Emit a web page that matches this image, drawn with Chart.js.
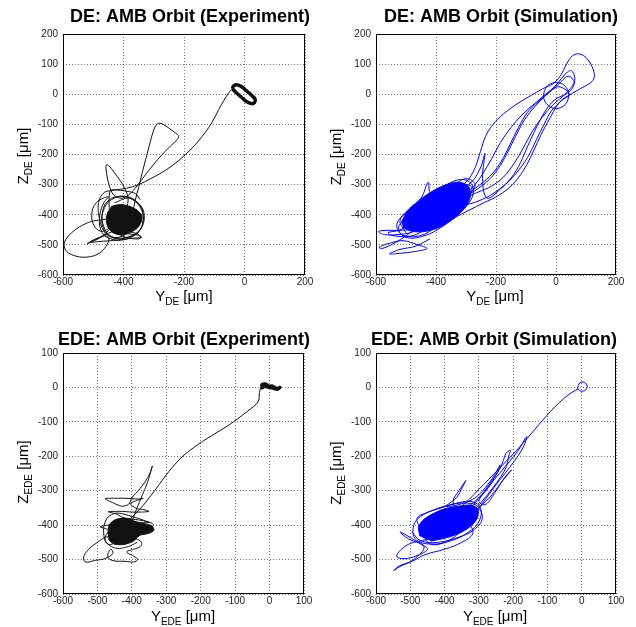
<!DOCTYPE html>
<html>
<head>
<meta charset="utf-8">
<script src="https://cdn.jsdelivr.net/npm/chart.js@4.4.1/dist/chart.umd.min.js"></script>
<style>
  body { margin: 0; background: #fff; }
  #wrap { position: relative; width: 636px; height: 627px; }
  #wrap canvas { position: absolute; left: 0; top: 0; }
</style>
</head>
<body>
<div id="wrap">
  <canvas id="deExp" width="636" height="627"></canvas>
  <canvas id="deSim" width="636" height="627"></canvas>
  <canvas id="edeExp" width="636" height="627"></canvas>
  <canvas id="edeSim" width="636" height="627"></canvas>
</div>
<script>
// orbit traces, [Y, Z] in µm

// DE experiment
const deExpOrbit = [[-40,18],[-36,28],[-22,31],[-8,24],[8,10],[24,-4],[35,-16],[33,-28],[22,-31],[6,-24],[-10,-10],[-26,4],[-40,18]];
const deExpPath = [[-40,18],[-52,5],[-68,-20],[-85,-50],[-100,-80],[-118,-110],[-140,-140],[-165,-170],[-195,-200],[-230,-230],[-270,-258],[-310,-280],[-350,-300],[-390,-312],[-430,-318],[-462,-325],[-478,-345],[-484,-375],[-480,-410],[-470,-445],[-452,-468],[-425,-476],[-398,-468],[-380,-448],[-372,-420],[-368,-390],[-362,-355],[-350,-310],[-338,-260],[-325,-210],[-312,-160],[-300,-118],[-290,-100],[-280,-96],[-262,-104],[-240,-120],[-218,-138],[-222,-150],[-245,-172],[-272,-200],[-300,-232],[-328,-268],[-352,-300],[-378,-330],[-405,-345],[-432,-335],[-448,-300],[-456,-262],[-457,-235],[-448,-238],[-432,-258],[-412,-285],[-396,-312],[-385,-345],[-392,-380],[-420,-405],[-460,-415],[-505,-422],[-545,-440],[-580,-468],[-596,-496],[-588,-522],[-555,-538],[-515,-540],[-480,-528],[-458,-505],[-448,-478],[-462,-470],[-495,-482],[-520,-496],[-508,-492],[-480,-478],[-452,-462],[-430,-455],[-400,-452],[-372,-458],[-350,-466],[-345,-478],[-365,-480],[-395,-474],[-420,-460],[-440,-440],[-445,-322],[-420,-318],[-390,-322],[-360,-330],[-345,-350]];
const deExpCore = [[-440,-372],[-410,-366],[-380,-372],[-355,-385],[-340,-402],[-342,-425],[-355,-445],[-380,-460],[-405,-467],[-430,-462],[-450,-445],[-457,-415],[-452,-390]];
const deExpFringe = [[-430,-360],[-380,-345],[-345,-370],[-335,-410],[-348,-455],[-390,-475],[-440,-472],[-465,-440],[-470,-395],[-455,-358],[-420,-340],[-370,-350],[-338,-390],[-340,-440],[-370,-468],[-420,-480],[-458,-460],[-472,-420],[-462,-375],[-440,-350],[-400,-338],[-358,-355],[-332,-395],[-345,-450],[-395,-482],[-448,-478],[-475,-450],[-478,-400],[-465,-360],[-450,-340],[-490,-360],[-505,-400],[-495,-440],[-470,-455],[-440,-440],[-470,-470],[-510,-490],[-470,-488],[-420,-484],[-370,-478],[-340,-475],[-350,-468],[-400,-462]];

// DE simulation
const deSimCircle = [[0,40],[22,34],[38,16],[42,-6],[34,-30],[14,-45],[-10,-46],[-30,-34],[-41,-12],[-38,12],[-24,32],[0,40]];
const deSimPath = [[-400,-380],[-360,-340],[-320,-310],[-290,-280],[-268,-240],[-252,-190],[-235,-140],[-210,-100],[-175,-65],[-130,-32],[-85,-5],[-45,18],[-10,35],[15,62],[35,100],[55,128],[78,134],[102,120],[120,92],[128,62],[120,42],[98,28],[70,12],[42,-4],[20,-18],[2,-40],[-18,-75],[-40,-115],[-62,-160],[-85,-210],[-110,-255],[-145,-300],[-190,-335],[-240,-360],[-290,-385],[-340,-410],[-390,-430],[-440,-445],[-490,-450],[-530,-452],[-570,-452],[-592,-456],[-572,-466],[-530,-466],[-480,-458],[-430,-430],[-380,-395],[-335,-360],[-300,-330],[-270,-300],[-245,-265],[-215,-215],[-185,-160],[-150,-110],[-110,-65],[-70,-30],[-35,0],[-5,25],[18,52],[38,74],[52,78],[62,58],[60,32],[48,12],[28,-2],[0,-15],[-25,-40],[-50,-80],[-75,-130],[-100,-185],[-125,-240],[-160,-290],[-210,-330],[-260,-355],[-310,-370],[-360,-385],[-410,-410],[-460,-440],[-500,-470],[-540,-495],[-580,-512],[-590,-508],[-560,-496],[-510,-486],[-460,-500],[-430,-512],[-470,-522],[-520,-528],[-555,-530],[-520,-515],[-470,-505],[-420,-480]];
const deSimBand = [[-320,-350],[-270,-320],[-230,-290],[-195,-250],[-165,-200],[-135,-140],[-105,-85],[-70,-40],[-35,-5],[5,30],[40,60],[60,40],[30,0],[-10,-35],[-45,-75],[-80,-125],[-110,-180],[-140,-230],[-175,-275],[-215,-305],[-260,-325],[-300,-340],[-280,-320],[-240,-290],[-205,-255],[-175,-210],[-150,-160],[-125,-110],[-95,-60],[-60,-25],[-25,5],[10,25],[45,0],[20,-20],[-15,-55],[-40,-100],[-65,-150],[-95,-210],[-135,-265],[-180,-310],[-230,-345],[-245,-280],[-237,-196],[-250,-240],[-280,-290],[-330,-320]];
const deSimCore = [[-515,-425],[-500,-395],[-470,-365],[-440,-340],[-400,-315],[-360,-298],[-322,-292],[-292,-305],[-285,-335],[-300,-372],[-340,-412],[-390,-442],[-440,-456],[-480,-455],[-510,-442]];
const deSimFringe = [[-500,-460],[-520,-420],[-490,-380],[-450,-345],[-426,-292],[-418,-330],[-380,-310],[-330,-285],[-290,-290],[-275,-320],[-290,-360],[-330,-400],[-380,-440],[-440,-470],[-500,-475],[-525,-445],[-500,-410],[-455,-370],[-410,-335],[-360,-310],[-310,-300],[-280,-310],[-300,-350],[-345,-395],[-400,-440],[-455,-470],[-515,-465],[-530,-430],[-495,-390],[-440,-350],[-390,-325],[-345,-305],[-300,-280],[-270,-300],[-290,-335],[-320,-365],[-370,-405],[-430,-445],[-480,-470],[-540,-470],[-560,-460],[-520,-450],[-470,-420],[-420,-380],[-370,-345],[-320,-320]];

// EDE experiment
const edeExpOrbit = [[-25,2],[-20,9],[-13,10],[-6,6],[0,3],[6,4],[13,1],[20,-3],[27,-2],[30,0],[24,-5],[15,-4],[7,-1],[0,0],[-8,2],[-16,3],[-22,-1],[-25,2]];
const edeExpPath = [[-25,0],[-28,-8],[-30,-22],[-31,-36],[-38,-48],[-55,-62],[-78,-80],[-105,-100],[-135,-120],[-165,-138],[-195,-157],[-222,-176],[-248,-196],[-272,-220],[-293,-245],[-312,-270],[-330,-295],[-348,-318],[-365,-340],[-385,-362],[-405,-382],[-430,-400]];
const edeExpBranch = [[-400,-390],[-385,-350],[-372,-318],[-360,-290],[-350,-262],[-343,-235],[-340,-228],[-347,-248],[-362,-275],[-380,-298],[-398,-318],[-410,-340],[-430,-345],[-455,-335],[-478,-323],[-460,-322],[-420,-322],[-380,-324],[-367,-322],[-390,-330],[-405,-338],[-385,-352],[-365,-355],[-350,-360],[-372,-362],[-400,-362],[-430,-360],[-468,-361],[-445,-368],[-420,-380],[-380,-385],[-350,-392],[-420,-395],[-470,-400],[-492,-405],[-470,-412]];
const edeExpCore = [[-470,-425],[-465,-398],[-445,-383],[-415,-380],[-388,-390],[-362,-396],[-342,-402],[-336,-415],[-352,-424],[-378,-430],[-395,-446],[-422,-456],[-452,-455],[-468,-442]];
const edeExpLower = [[-440,-430],[-475,-435],[-500,-450],[-525,-470],[-540,-492],[-535,-507],[-505,-502],[-478,-497],[-455,-482],[-462,-470],[-470,-492],[-455,-503],[-420,-505],[-395,-507],[-383,-500],[-395,-490],[-415,-478],[-395,-470],[-375,-462],[-372,-450],[-390,-440],[-430,-445],[-470,-455],[-482,-420],[-475,-385],[-460,-370],[-440,-365],[-400,-375],[-360,-388],[-338,-398],[-350,-410],[-380,-405],[-420,-400],[-455,-410],[-478,-440],[-450,-466],[-410,-462],[-385,-450]];

// EDE simulation
const edeSimCircle = [[-10,5],[-6,13],[3,16],[12,12],[16,2],[12,-7],[3,-11],[-7,-9],[-12,-2],[-10,5]];
const edeSimPath = [[-10,-4],[-28,-14],[-52,-32],[-78,-56],[-102,-82],[-125,-108],[-148,-135],[-170,-160],[-193,-186],[-218,-212],[-245,-240],[-272,-268],[-300,-296],[-328,-325],[-358,-352],[-390,-375]];
const edeSimBand = [[-330,-385],[-300,-350],[-270,-310],[-240,-270],[-210,-232],[-185,-198],[-168,-168],[-160,-143],[-166,-150],[-178,-172],[-198,-200],[-225,-232],[-255,-268],[-285,-305],[-315,-340],[-345,-370],[-320,-360],[-290,-330],[-262,-295],[-235,-258],[-220,-230],[-213,-200],[-208,-183],[-220,-190],[-228,-210],[-240,-238],[-265,-275],[-295,-315],[-330,-345],[-360,-362],[-375,-330],[-358,-300],[-345,-280],[-338,-270],[-348,-290],[-365,-320],[-395,-345],[-350,-338],[-310,-320],[-280,-290],[-255,-255],[-238,-225],[-245,-245],[-268,-285],[-300,-330],[-280,-340],[-250,-300],[-225,-262],[-205,-240],[-230,-270],[-262,-312],[-300,-350]];
const edeSimCore = [[-472,-432],[-476,-405],[-460,-383],[-430,-365],[-398,-352],[-360,-345],[-322,-342],[-302,-355],[-306,-382],[-326,-405],[-360,-425],[-400,-438],[-440,-446]];
const edeSimFringe = [[-440,-440],[-490,-450],[-520,-465],[-540,-490],[-525,-497],[-490,-492],[-450,-470],[-470,-455],[-510,-430],[-530,-420],[-505,-440],[-460,-462],[-490,-500],[-530,-520],[-548,-532],[-535,-520],[-495,-505],[-455,-485],[-400,-470],[-350,-450],[-318,-425],[-330,-400],[-380,-440],[-440,-455],[-470,-410],[-480,-380],[-455,-365],[-410,-350],[-360,-335],[-320,-332],[-295,-350],[-300,-390],[-330,-420],[-380,-445],[-440,-455],[-485,-440],[-490,-400],[-470,-375],[-430,-355],[-380,-340],[-335,-336],[-305,-345],[-290,-380],[-310,-410],[-350,-432],[-420,-450],[-470,-445],[-495,-420]];

const topTicks = { min: -600, max: 200, step: 200, yStep: 100 };
const bottomTicks = { min: -600, max: 100, step: 100, yStep: 100 };

const BLACK = '#111';
const BLUE = '#0000ff';

const pts = arr => arr.map(p => ({ x: p[0], y: p[1] }));

function trace(arr, color, width, tension) {
  return { data: pts(arr), showLine: true, borderColor: color, borderWidth: width,
           pointRadius: 0, tension: tension === undefined ? 0.35 : tension, fill: false };
}
function blob(arr, color) {
  return { data: pts(arr), showLine: true, borderColor: color, borderWidth: 1,
           backgroundColor: color, pointRadius: 0, tension: 0.3, fill: 'shape' };
}

// title, axis labels with subscripts and the closed axes box
const decor = {
  id: 'decor',
  afterDraw(chart, args, o) {
    const ctx = chart.ctx;
    const a = chart.chartArea;
    ctx.save();
    ctx.strokeStyle = '#000';
    ctx.lineWidth = 1;
    ctx.strokeRect(Math.round(a.left) + 0.5, Math.round(a.top) + 0.5,
                   Math.round(a.right - a.left) - 1, Math.round(a.bottom - a.top) - 1);
    ctx.fillStyle = '#000';
    ctx.font = 'bold 18px Arial, "Liberation Sans"';
    ctx.textAlign = 'center';
    ctx.textBaseline = 'alphabetic';
    ctx.fillText(o.title, o.titleAt[0], o.titleAt[1]);
    ctx.restore();
    subLabel(ctx, o.xAt[0], o.xAt[1], 'Y', o.sub, ' [\u03bcm]', false);
    subLabel(ctx, o.yAt[0], o.yAt[1], 'Z', o.sub, ' [\u03bcm]', true);
  }
};

function subLabel(ctx, x, y, main, sub, tail, rotate) {
  const big = '15px Arial, "Liberation Sans"';
  const small = '10px Arial, "Liberation Sans"';
  ctx.save();
  ctx.translate(x, y);
  if (rotate) ctx.rotate(-Math.PI / 2);
  ctx.fillStyle = '#000';
  ctx.textAlign = 'left';
  ctx.textBaseline = 'alphabetic';
  ctx.font = big;
  const w1 = ctx.measureText(main).width;
  const w3 = ctx.measureText(tail).width;
  ctx.font = small;
  const w2 = ctx.measureText(sub).width;
  let cx = -(w1 + w2 + w3) / 2;
  ctx.font = big;
  ctx.fillText(main, cx, 0);
  cx += w1;
  ctx.font = small;
  ctx.fillText(sub, cx, 4);
  cx += w2;
  ctx.font = big;
  ctx.fillText(tail, cx, 0);
  ctx.restore();
}

const YW = 40, XH = 20;

function panel(id, box, range, datasets, deco) {
  const [L, T, R, B] = box;
  const tickFont = { family: '"Liberation Sans Narrow", Arial', size: 10 };
  const axis = (min, max, step, pad) => ({
    type: 'linear', min: min, max: max,
    border: { display: false, dash: [1, 2] },
    grid: { color: 'rgba(0,0,0,0.55)', drawTicks: false, lineWidth: 1 },
    ticks: { stepSize: step, color: '#222', font: tickFont, padding: pad,
             autoSkip: false, maxRotation: 0 }
  });
  const x = axis(range.min, range.max, range.step, 1);
  x.afterFit = s => { s.height = XH; };
  const y = axis(range.min, range.max, range.yStep, 5);
  y.afterFit = s => { s.width = YW; };
  new Chart(document.getElementById(id), {
    type: 'scatter',
    data: { datasets: datasets },
    options: {
      responsive: false,
      animation: false,
      events: [],
      layout: { padding: { left: L - YW, top: T, right: 636 - R, bottom: 627 - B - XH } },
      scales: { x: x, y: y },
      plugins: { legend: { display: false }, tooltip: { enabled: false }, decor: deco }
    },
    plugins: [decor]
  });
}

panel('deExp', [63, 34, 305, 275], topTicks, [
  blob(deExpCore, BLACK),
  trace(deExpFringe, BLACK, 1, 0.4),
  trace(deExpPath, BLACK, 1),
  trace(deExpOrbit, BLACK, 3.5)
], { title: 'DE: AMB Orbit (Experiment)', titleAt: [190, 22], sub: 'DE', xAt: [184, 301], yAt: [28, 156] });

panel('deSim', [376, 34, 616, 275], topTicks, [
  blob(deSimCore, BLUE),
  trace(deSimFringe, BLUE, 1, 0.4),
  trace(deSimBand, BLUE, 1),
  trace(deSimPath, BLUE, 1),
  trace(deSimCircle, BLUE, 1)
], { title: 'DE: AMB Orbit (Simulation)', titleAt: [501, 22], sub: 'DE', xAt: [495, 301], yAt: [341, 157] });

panel('edeExp', [63, 353, 304, 594], bottomTicks, [
  blob(edeExpCore, BLACK),
  trace(edeExpLower, BLACK, 1, 0.4),
  trace(edeExpBranch, BLACK, 1, 0.25),
  trace(edeExpPath, BLACK, 1),
  trace(edeExpOrbit, BLACK, 3.5)
], { title: 'EDE: AMB Orbit (Experiment)', titleAt: [184, 345], sub: 'EDE', xAt: [183, 621], yAt: [28, 472] });

panel('edeSim', [376, 353, 616, 594], bottomTicks, [
  blob(edeSimCore, BLUE),
  trace(edeSimFringe, BLUE, 1, 0.4),
  trace(edeSimBand, BLUE, 1),
  trace(edeSimPath, BLUE, 1),
  trace(edeSimCircle, BLUE, 1)
], { title: 'EDE: AMB Orbit (Simulation)', titleAt: [494, 345], sub: 'EDE', xAt: [495, 621], yAt: [341, 473] });
</script>
</body>
</html>
